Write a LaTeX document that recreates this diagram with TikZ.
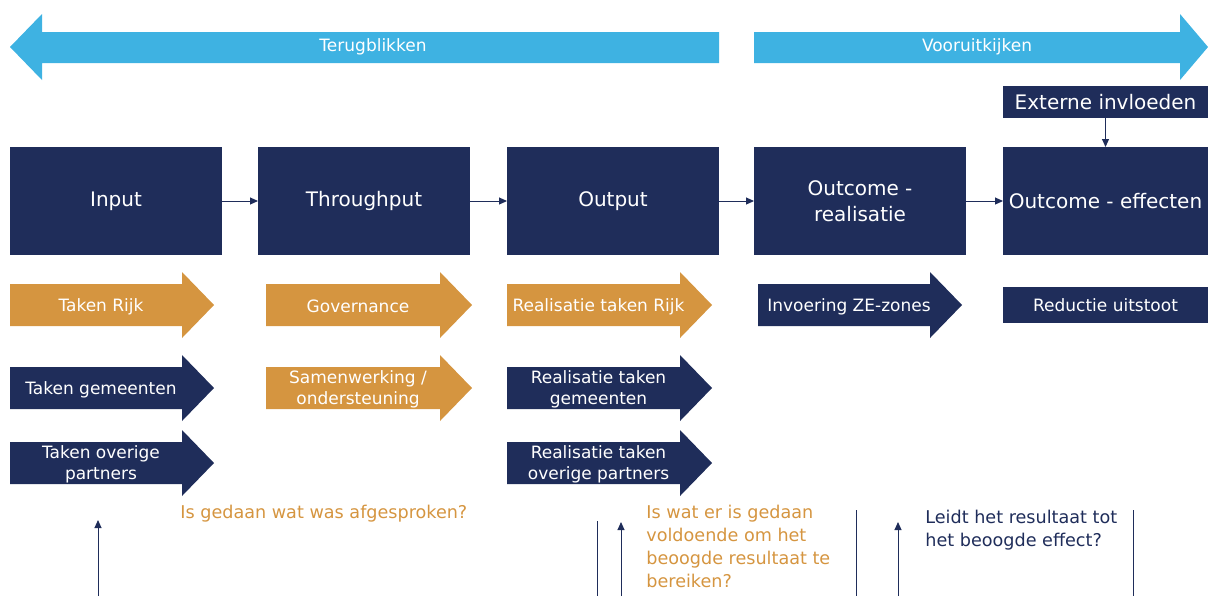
\documentclass[tikz,border=0pt]{standalone}
\usepackage{fontspec}
\setmainfont{DejaVu Sans}
\usetikzlibrary{arrows.meta, positioning}
\definecolor{navy}{RGB}{31,45,90}
\definecolor{ochre}{RGB}{213,149,64}
\definecolor{skyblue}{RGB}{62,178,226}
\tikzset{
  stage/.style={fill=navy, text=white, inner sep=0pt, outer sep=0pt,
    align=center, minimum width=106pt, minimum height=54pt,
    font=\fontsize{10}{13}\selectfont},
  tag/.style={fill=navy, text=white, inner sep=0pt, outer sep=0pt,
    minimum width=102.5pt, font=\fontsize{10}{12}\selectfont},
  tasktext/.style={text=white, inner sep=0pt, align=center,
    font=\fontsize{8.5}{10.5}\selectfont},
  question/.style={inner sep=0pt, align=left, anchor=west,
    font=\fontsize{8.8}{11.5}\selectfont},
  flow/.style={draw=navy, line width=0.5pt,
    -{Triangle[length=4pt, width=3.5pt]}},
  rule/.style={draw=navy, line width=0.5pt},
}
% block arrow: name, colour, left x, centre y, tip x, text
\newcommand{\taskarrow}[6]{%
  \fill[#2] (#3,#4-21) -- (#5-32,#4-21) -- (#5-32,#4-33) -- (#5,#4)
    -- (#5-32,#4+33) -- (#5-32,#4+21) -- (#3,#4+21) -- cycle;
  \node[tasktext] (#1) at ({(#3+#5)/2-11},#4+1.5) {#6};
}

\begin{document}
\begin{tikzpicture}[x=0.5pt, y=-0.5pt]
  \useasboundingbox (0,0) rectangle (1208,596);

  % time arrows
  \fill[skyblue] (10,47) -- (42,14) -- (42,32) -- (719,32) -- (719,63)
    -- (42,63) -- (42,80) -- cycle;
  \fill[skyblue] (754,32) -- (1180,32) -- (1180,14) -- (1208,47)
    -- (1180,80) -- (1180,63) -- (754,63) -- cycle;
  \node[tasktext] (back) at (373,47) {Terugblikken};
  \node[tasktext] (ahead) at (977,47) {Vooruitkijken};

  % stages
  \node[stage] (input) at (116,201) {Input};
  \node[stage, right=18pt of input] (through) {Throughput};
  \node[stage, right=18.5pt of through] (output) {Output};
  \node[stage, right=17.5pt of output] (real) {Outcome -\\realisatie};
  \node[stage, minimum width=102.5pt, right=18.5pt of real] (effect)
    {Outcome - effecten};
  \node[tag, minimum height=16pt, above=14.5pt of effect] (extern)
    {Externe invloeden};

  \draw[flow] (input) -- (through);
  \draw[flow] (through) -- (output);
  \draw[flow] (output) -- (real);
  \draw[flow] (real) -- (effect);
  \draw[flow] (extern) -- (effect);

  % tasks
  \taskarrow{rijk}{ochre}{10}{305}{214}{Taken Rijk}
  \taskarrow{gem}{navy}{10}{388}{214}{Taken gemeenten}
  \taskarrow{overig}{navy}{10}{463}{214}{Taken overige\\partners}
  \taskarrow{gov}{ochre}{266}{305}{472}{Governance}
  \taskarrow{samen}{ochre}{266}{388}{472}{Samenwerking /\\ondersteuning}
  \taskarrow{realrijk}{ochre}{507}{305}{712}{Realisatie taken Rijk}
  \taskarrow{realgem}{navy}{507}{388}{712}{Realisatie taken\\gemeenten}
  \taskarrow{realoverig}{navy}{507}{463}{712}{Realisatie taken\\overige partners}
  \taskarrow{zones}{navy}{758}{305}{962}{Invoering ZE-zones}
  \node[tag, font=\fontsize{8.5}{10}\selectfont, minimum height=18pt]
    (reductie) at (1105.5,305) {Reductie uitstoot};

  % questions
  \coordinate (q1foot) at (98,596);
  \coordinate (q1tip) at (98,520);
  \coordinate (l1top) at (597,521);
  \coordinate (l1foot) at (597,596);
  \coordinate (q2foot) at (621,596);
  \coordinate (q2tip) at (621,522);
  \coordinate (l2top) at (856,510);
  \coordinate (l2foot) at (856,596);
  \coordinate (q3foot) at (898,596);
  \coordinate (q3tip) at (898,522);
  \coordinate (l3top) at (1133,510);
  \coordinate (l3foot) at (1133,596);

  \draw[flow] (q1foot) -- (q1tip);
  \draw[flow] (q2foot) -- (q2tip);
  \draw[flow] (q3foot) -- (q3tip);
  \draw[rule] (l1top) -- (l1foot);
  \draw[rule] (l2top) -- (l2foot);
  \draw[rule] (l3top) -- (l3foot);

  \node[question, text=ochre] (afspraak) at (180,514)
    {Is gedaan wat was afgesproken?};
  \node[question, text=ochre] (voldoende) at (646,546)
    {Is wat er is gedaan\\voldoende om het\\beoogde resultaat te\\bereiken?};
  \node[question, text=navy] (leidt) at (925,530)
    {Leidt het resultaat tot\\het beoogde effect?};
\end{tikzpicture}
\end{document}
